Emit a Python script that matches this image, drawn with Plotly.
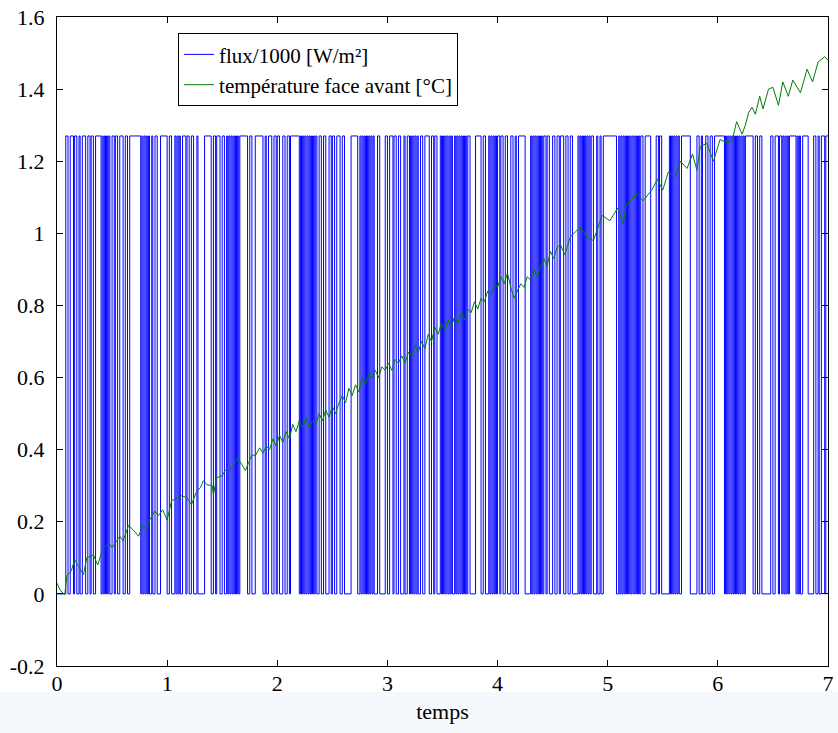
import plotly.graph_objects as go

# ---- data ----
# flux/1000 : binary pseudo-random signal given as alternating run lengths
# (in steps of 0.01 time unit), starting with a low (0) run; high level = HIGH
HIGH = 1.27
flux_runs = [
    8,
    2, 2, 3, 1, 2, 2, 1, 2, 3, 2, 2, 1, 2, 2, 5,
    1, 1, 1, 1, 1, 1, 1, 1, 2, 2, 1, 2, 2, 3, 2, 2, 2, 10,
    1, 1, 1, 1, 1, 1, 1, 1, 2, 1, 2, 2, 3, 6,
    2, 2, 3, 1, 1, 1, 1, 1, 2, 3, 1, 2, 2, 2, 3, 1, 6, 6,
    2, 2, 1, 3, 2, 2, 2, 1, 1, 1, 1, 1, 1, 1, 1, 1, 1, 1, 1, 7,
    2, 2, 3, 7,
    2, 1, 2, 3, 2, 2, 1, 2, 3, 2, 2, 2, 1, 8,
    1, 1, 1, 1, 1, 1, 1, 1, 1, 1, 1, 1, 1, 1, 1, 1, 2, 2, 2, 2, 3, 2, 1, 2, 2, 3, 2, 2, 6, 6,
    2, 1, 1, 1, 1, 1, 1, 1, 1, 1, 1, 1, 1, 1, 3, 2, 5,
    2, 2, 3, 1, 2, 2, 2, 3, 1, 2, 2, 1, 1, 1, 1, 1, 1, 1, 1, 2, 2, 2, 4,
    2, 2, 1, 2, 3, 1, 1, 1, 1, 1, 1, 1, 1, 1, 1, 1, 2, 1, 1, 1, 1, 1, 1, 1, 1, 1, 1, 1, 1, 2, 5, 5,
    2, 2, 3, 1, 1, 1, 1, 1, 1, 1, 1, 2, 1, 2, 2, 2, 3, 2, 2, 1, 2, 6, 5,
    1, 1, 1, 1, 1, 1, 1, 1, 1, 1, 1, 1, 2, 1, 2, 3, 2, 2, 2, 1, 3, 2, 2, 2, 2, 5,
    1, 1, 1, 1, 1, 1, 1, 1, 1, 1, 1, 1, 2, 3, 1, 2, 1, 2, 12,
    2, 1, 1, 1, 1, 1, 1, 1, 1, 1, 1, 1, 1, 1, 1, 1, 1, 1, 1, 1, 1, 2, 2, 5, 5,
    2, 1, 2, 7,
    1, 1, 1, 1, 1, 1, 1, 1, 1, 2, 8, 6,
    2, 2, 1, 3, 2, 2, 2, 2, 9,
    1, 1, 1, 1, 1, 1, 1, 1, 1, 1, 1, 1, 1, 1, 1, 1, 1, 1, 1, 7,
    2, 2, 2, 2, 8,
    2, 2, 3, 1, 2, 1, 1, 1, 1, 1, 1, 1, 6,
    1, 1, 1, 1, 2, 5, 5,
    2, 2, 1, 2, 3, 1, 2,
]

temp_x = [0.0, 0.03, 0.07, 0.09, 0.13, 0.16, 0.19, 0.24, 0.27, 0.33, 0.37, 0.41, 0.47, 0.50,
          0.57, 0.60, 0.65, 0.69, 0.74, 0.78, 0.81, 0.84, 0.89, 0.92, 0.96, 1.00, 1.04, 1.09,
          1.13, 1.18, 1.22, 1.27, 1.30, 1.33, 1.36, 1.41, 1.42, 1.45, 1.50, 1.53, 1.55, 1.60,
          1.64, 1.68, 1.71, 1.74, 1.77, 1.80, 1.84, 1.87, 1.90, 1.93, 1.96, 1.99, 2.02, 2.05,
          2.08, 2.11, 2.14, 2.17, 2.20, 2.23, 2.26, 2.29, 2.32, 2.35, 2.38, 2.41, 2.44, 2.47,
          2.50, 2.53, 2.56, 2.59, 2.62, 2.65, 2.68, 2.71, 2.74, 2.77, 2.80, 2.83, 2.86, 2.89,
          2.92, 2.95, 2.98, 3.01, 3.04, 3.07, 3.10, 3.13, 3.16, 3.19, 3.22, 3.25, 3.28, 3.31,
          3.34, 3.37, 3.40, 3.43, 3.46, 3.49, 3.52, 3.55, 3.58, 3.61, 3.64, 3.67, 3.70, 3.73,
          3.76, 3.79, 3.82, 3.85, 3.88, 3.91, 3.94, 3.97, 4.00, 4.03, 4.06, 4.09, 4.12, 4.15,
          4.18, 4.21, 4.24, 4.27, 4.30, 4.33, 4.36, 4.39, 4.42, 4.45, 4.48, 4.51, 4.54, 4.57,
          4.61, 4.66, 4.75, 4.81, 4.87, 4.95, 5.02, 5.09, 5.14, 5.17, 5.27, 5.32, 5.40, 5.45,
          5.50, 5.55, 5.61, 5.66, 5.72, 5.77, 5.81, 5.84, 5.90, 5.96, 6.02, 6.09, 6.14, 6.17,
          6.22, 6.25, 6.28, 6.31, 6.34, 6.38, 6.41, 6.46, 6.50, 6.55, 6.59, 6.64, 6.68, 6.75,
          6.81, 6.86, 6.91, 6.97, 7.00]
temp_y = [0.03, 0.01, -0.003, 0.05, 0.064, 0.095, 0.08, 0.053, 0.10, 0.108, 0.08, 0.12, 0.142, 0.128,
          0.16, 0.147, 0.19, 0.178, 0.16, 0.19, 0.178, 0.205, 0.23, 0.217, 0.233, 0.205, 0.258, 0.267,
          0.272, 0.267, 0.247, 0.286, 0.294, 0.314, 0.303, 0.30, 0.275, 0.322, 0.328, 0.344, 0.336, 0.355,
          0.378, 0.358, 0.342, 0.364, 0.386, 0.383, 0.405, 0.39, 0.41, 0.40, 0.43, 0.41, 0.44, 0.42,
          0.45, 0.43, 0.47, 0.45, 0.48, 0.46, 0.49, 0.46, 0.48, 0.47, 0.50, 0.48, 0.51, 0.49,
          0.52, 0.50, 0.53, 0.55, 0.53, 0.57, 0.55, 0.58, 0.56, 0.60, 0.58, 0.61, 0.60, 0.62,
          0.60, 0.63, 0.62, 0.64, 0.62, 0.65, 0.64, 0.66, 0.64, 0.67, 0.66, 0.69, 0.67, 0.70,
          0.68, 0.72, 0.70, 0.74, 0.72, 0.75, 0.73, 0.76, 0.74, 0.77, 0.75, 0.78, 0.76, 0.79,
          0.78, 0.81, 0.79, 0.82, 0.81, 0.84, 0.83, 0.86, 0.85, 0.88, 0.86, 0.89, 0.85, 0.82,
          0.84, 0.86, 0.85, 0.88, 0.87, 0.90, 0.88, 0.91, 0.93, 0.91, 0.95, 0.93, 0.96, 0.97,
          0.94, 0.99, 1.017, 0.99, 0.98, 1.05, 1.035, 1.07, 1.025, 1.08, 1.11, 1.09, 1.12, 1.15,
          1.12, 1.17, 1.155, 1.20, 1.18, 1.22, 1.175, 1.24, 1.25, 1.20, 1.26, 1.25, 1.27, 1.31,
          1.275, 1.30, 1.335, 1.35, 1.33, 1.38, 1.345, 1.40, 1.405, 1.355, 1.42, 1.38, 1.425, 1.39,
          1.455, 1.42, 1.475, 1.49, 1.48]

x_ticks = [0, 1, 2, 3, 4, 5, 6, 7]
y_ticks = [-0.2, 0, 0.2, 0.4, 0.6, 0.8, 1, 1.2, 1.4, 1.6]
y_labels = ["-0.2", "0", "0.2", "0.4", "0.6", "0.8", "1", "1.2", "1.4", "1.6"]

# ---- build step signal from the run lengths ----
total_steps = sum(flux_runs)
step = 7.0 / total_steps  # keeps the sequence spanning the full 0..7 window
flux_x, flux_y = [], []
pos = 0
for k, n in enumerate(flux_runs):
    flux_x.append(pos * step)
    flux_y.append(HIGH if k % 2 == 1 else 0.0)
    pos += n
flux_x.append(7.0)
flux_y.append(flux_y[-1])

FONT = "Liberation Serif, Times New Roman, serif"

fig = go.Figure()
fig.add_trace(go.Scatter(x=flux_x, y=flux_y, mode="lines", line=dict(color="#0000ff", width=1, shape="hv"),
                         name="flux/1000 [W/m²]"))
fig.add_trace(go.Scatter(x=temp_x, y=temp_y, mode="lines", line=dict(color="#008000", width=1),
                         name="température face avant [°C]"))

axis_common = dict(showline=True, linecolor="black", linewidth=1, mirror="ticks", ticks="inside",
                   ticklen=6, tickcolor="black", showgrid=False, zeroline=False, automargin=False,
                   tickfont=dict(family=FONT, size=22, color="black"))
fig.update_layout(
    width=838, height=733,
    margin=dict(l=57, r=10, t=17, b=67, autoexpand=False),
    paper_bgcolor="white", plot_bgcolor="white",
    font=dict(family=FONT, size=22, color="black"),
    xaxis=dict(range=[0, 7], tickvals=x_ticks, ticktext=[str(v) for v in x_ticks], ticklabelstandoff=-2,
               title=dict(text="temps", font=dict(family=FONT, size=22), standoff=8), **axis_common),
    yaxis=dict(range=[-0.2, 1.6], tickvals=y_ticks, ticktext=y_labels, ticklabelstandoff=7,
               **axis_common),
    legend=dict(x=0.157, y=0.975, xanchor="left", yanchor="top", bgcolor="white",
                bordercolor="black", borderwidth=1, font=dict(family=FONT, size=21),
                tracegroupgap=0),
    showlegend=True,
    shapes=[dict(type="rect", xref="paper", yref="paper", x0=-0.1, x1=1.02, y0=-0.104, y1=-0.04,
                 fillcolor="#f5f8fc", line=dict(width=0), layer="below")],
)
fig.write_html("out.html")
